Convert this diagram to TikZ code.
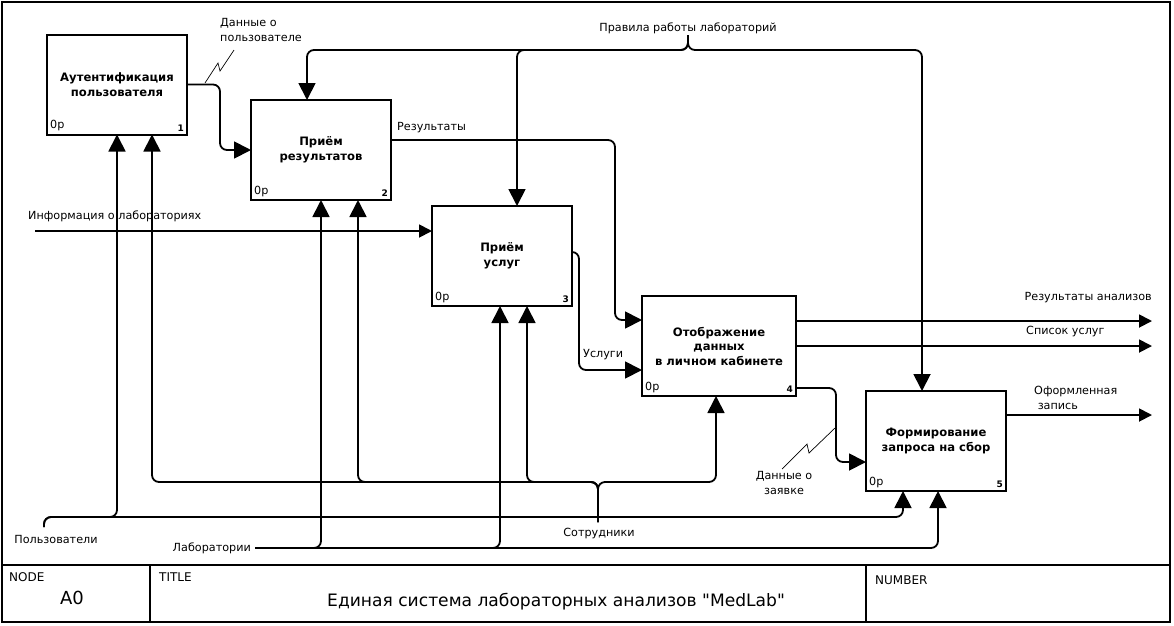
\documentclass[tikz,border=0pt]{standalone}
\usepackage{fontspec}
\setmainfont{DejaVu Sans}
\newfontfamily\titlefont{DejaVu Sans}
\usetikzlibrary{positioning, arrows.meta}

\begin{document}
\begin{tikzpicture}[x=1pt, y=-1pt, node distance=10pt,
  func/.style={draw, line width=2pt, minimum width=140pt, minimum height=100pt, inner sep=0pt, outer sep=0pt, align=center, font=\fontsize{11.6}{14.5}\selectfont\bfseries},
  flow/.style={line width=1.8pt, rounded corners=7pt, -{Triangle[length=17pt, width=17pt]}},
  outflow/.style={line width=1.8pt, rounded corners=7pt, -{Triangle[length=13pt, width=13pt]}},
  lbl/.style={font=\fontsize{11.2}{15}\selectfont, inner sep=1pt},
  squiggle/.style={line width=0.7pt}]
  \useasboundingbox (0,0) rectangle (1174,625);

  % frame and title block
  \draw[line width=1.8pt] (2,2) rectangle (1170,622);
  \draw[line width=1.8pt] (2,565) -- (1170,565) (150,565) -- (150,622) (866,565) -- (866,622);
  \node[lbl, anchor=west, font=\fontsize{12}{14}\selectfont] (nodehead)  at (8,577)   {NODE};
  \node[font=\fontsize{18}{20}\selectfont] (nodeid) at (72,598) {A0};
  \node[lbl, anchor=west, font=\fontsize{12}{14}\selectfont] (titlehead) at (158,577) {TITLE};
  \node[font=\titlefont\fontsize{17.1}{20}\selectfont] (title) at (556,602) {Единая система лабораторных анализов "MedLab"};
  \node[lbl, anchor=west, font=\fontsize{12}{14}\selectfont] (numhead)   at (874,580) {NUMBER};

  % functions
  \node[func] (box1) at (117,84.5) {Аутентификация\\пользователя};
  \node[func, below right=-34.5pt and 64pt of box1] (box2) {Приём\\результатов};
  \node[func, below right=6pt and 41pt of box2] (box3) {Приём\\услуг};
  \node[func, minimum width=154pt, below right=-10pt and 70pt of box3] (box4) {Отображение\\данных\\в личном кабинете};
  \node[func, below right=-5pt and 70pt of box4] (box5) {Формирование\\запроса на сбор};
  \foreach \b in {1,...,5} {
    \node[lbl, anchor=south west, inner sep=3pt] (code\b) at (box\b.south west) {0р};
    \node[anchor=south east, inner sep=3pt, font=\fontsize{9}{10}\selectfont\bfseries] (num\b) at (box\b.south east) {\b};
  }

  % controls
  \coordinate (rules) at (688,35);
  \coordinate (rulesbus) at (688,50);
  \node[lbl, anchor=south] (ruleslbl) at (rules) {Правила работы лабораторий};
  \draw[flow] (rules) -- (rulesbus) -| ([xshift=-14pt]box2.north);
  \draw[flow] (rules) -- (rulesbus) -| ([xshift=15pt]box3.north);
  \draw[flow] (rules) -- (rulesbus) -| ([xshift=-14pt]box5.north);

  % inputs and outputs
  \coordinate (info) at (35,231);
  \node[lbl, anchor=west] (infolbl) at (27,216) {Информация о лабораториях};
  \draw[outflow] (info) -- (info -| box3.west);

  \draw[flow] (box1.east) -- ++(33,0) |- (box2.west);
  \node[lbl, anchor=west, align=left] (userdata) at (219,30) {Данные о\\пользователе};
  \draw[squiggle] (205,83) -- (218,63) -- (220,71) -- (234,50);

  \draw[flow] ([yshift=10pt]box2.east) -- ++(224,0) |- ([yshift=26pt]box4.west);
  \node[lbl, anchor=west] (reslbl) at (396,128) {Результаты};

  \draw[flow] ([yshift=4pt]box3.east) -- ++(7,0) |- ([yshift=-24pt]box4.west);
  \node[lbl, anchor=west] (servlbl) at (582,355) {Услуги};

  \draw[flow] ([yshift=-42pt]box4.east) -- ++(40,0) |- ([yshift=-21pt]box5.west);
  \node[lbl, align=center] (orderdata) at (784,483) {Данные о\\заявке};
  \draw[squiggle] (835,428) -- (809,453) -- (807,444) -- (782,469);

  \coordinate (analysis) at (1152,321);
  \coordinate (services) at (1152,346);
  \coordinate (record) at (1152,415);
  \draw[outflow] ([yshift=25pt]box4.east) -- (analysis);
  \draw[outflow] (box4.east) -- (services);
  \draw[outflow] ([yshift=26pt]box5.east) -- (record);
  \node[lbl, anchor=east] (analysislbl) at (1153,298) {Результаты анализов};
  \node[lbl, anchor=west] (serviceslbl) at (1025,331) {Список услуг};
  \node[lbl, anchor=west, align=left] (recordlbl) at (1033,398) {Оформленная\\\ запись};

  % mechanisms
  \coordinate (users) at (44,527);
  \coordinate (usersbus) at (44,517);
  \node[lbl] (userslbl) at (56,539) {Пользователи};
  \draw[flow] (users) -- (usersbus) -| (box1.south);
  \draw[flow] (users) -- (usersbus) -| ([xshift=-33pt]box5.south);

  \coordinate (labs) at (255,548);
  \node[lbl, anchor=east] (labslbl) at (252,548) {Лаборатории};
  \draw[flow] (labs) -| (box2.south);
  \draw[flow] (labs) -| ([xshift=-2pt]box3.south);
  \draw[flow] (labs) -| ([xshift=2pt]box5.south);

  \coordinate (staff) at (598,522);
  \coordinate (staffbus) at (598,482);
  \node[lbl] (stafflbl) at (599,533) {Сотрудники};
  \draw[flow] (staff) -- (staffbus) -| ([xshift=35pt]box1.south);
  \draw[flow] (staff) -- (staffbus) -| ([xshift=37pt]box2.south);
  \draw[flow] (staff) -- (staffbus) -| ([xshift=25pt]box3.south);
  \draw[flow] (staff) -- (staffbus) -| ([xshift=-3pt]box4.south);
\end{tikzpicture}
\end{document}
